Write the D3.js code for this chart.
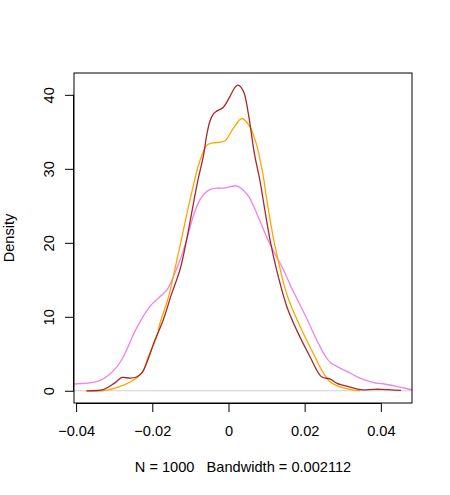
<!DOCTYPE html>
<html>
<head>
<meta charset="utf-8">
<script src="https://cdn.jsdelivr.net/npm/d3@7"></script>
<style>
  body { margin: 0; background: #fff; }
  svg text { font-family: "Liberation Sans", Arial, sans-serif; fill: #000; white-space: pre; }
</style>
</head>
<body>
<svg id="chart" width="450" height="495"></svg>
<script>
// density estimates (x, density)
const brownX = [-0.0373, -0.0327, -0.0300, -0.0279, -0.0258, -0.0240, -0.0225, -0.0210, -0.0195, -0.0171, -0.0150, -0.0136, -0.0125, -0.0110, -0.0095, -0.0080, -0.0066, -0.0057, -0.0049, -0.0040, -0.0031, -0.0014, 0.0004, 0.0017, 0.0025, 0.0039, 0.0052, 0.0065, 0.0070, 0.0083, 0.0091, 0.0109, 0.0126, 0.0153, 0.0179, 0.0214, 0.0244, 0.0266, 0.0285, 0.0319, 0.0347, 0.0381, 0.0400, 0.0453];
const brownY = [0, 0.2, 1.0, 1.8, 1.7, 1.9, 2.6, 4.4, 6.6, 9.6, 13.0, 15.0, 16.8, 20.4, 24.5, 28.5, 31.7, 34.6, 36.4, 37.4, 37.8, 38.3, 39.8, 41.0, 41.3, 40.5, 37.5, 33.0, 31.5, 28.3, 25.8, 20.4, 16.4, 11.4, 8.2, 4.6, 1.9, 1.6, 1.0, 0.5, 0.15, 0.2, 0.2, 0.05];

const orangeX = [-0.0373, -0.0318, -0.0274, -0.0248, -0.0225, -0.0212, -0.0187, -0.0180, -0.0160, -0.0153, -0.0134, -0.0120, -0.0108, -0.0092, -0.0080, -0.0070, -0.0057, -0.0040, -0.0022, -0.0009, 0.0013, 0.0035, 0.0056, 0.0074, 0.0083, 0.0092, 0.0100, 0.0118, 0.0135, 0.0148, 0.0161, 0.0188, 0.0222, 0.0249, 0.0265, 0.0284, 0.0319, 0.0345];
const orangeY = [0, 0.1, 0.8, 1.5, 2.6, 4.4, 7.5, 9.1, 12.2, 13.6, 18.0, 21.3, 24.2, 27.8, 30.3, 31.8, 33.2, 33.5, 33.6, 33.8, 35.5, 36.8, 35.7, 33.2, 31.2, 28.8, 26.0, 20.6, 16.6, 13.9, 11.9, 8.7, 5.1, 2.4, 1.3, 0.7, 0.2, 0];

const violetX = [-0.0450, -0.0405, -0.0360, -0.0337, -0.0315, -0.0292, -0.0276, -0.0241, -0.0206, -0.0180, -0.0162, -0.0145, -0.0127, -0.0110, -0.0090, -0.0075, -0.0064, -0.0049, -0.0030, -0.0012, 0.0005, 0.0021, 0.0035, 0.0048, 0.0056, 0.0074, 0.0100, 0.0119, 0.0144, 0.0163, 0.0179, 0.0207, 0.0222, 0.0240, 0.0254, 0.0268, 0.0284, 0.0319, 0.0345, 0.0381, 0.0406, 0.0450, 0.0482, 0.0500];
const violetY = [0.55, 0.9, 1.1, 1.4, 2.1, 3.3, 4.6, 8.5, 11.4, 12.7, 13.6, 15.4, 17.7, 20.4, 24.0, 25.8, 26.6, 27.2, 27.4, 27.4, 27.6, 27.7, 27.3, 26.6, 26.0, 24.0, 20.8, 18.8, 16.4, 14.2, 12.5, 9.6, 7.9, 6.0, 4.7, 3.8, 3.3, 2.4, 1.7, 1.1, 0.95, 0.5, 0.14, 0.05];

const xTicks = [-0.04, -0.02, 0, 0.02, 0.04];
const yTicks = [0, 10, 20, 30, 40];
const xLabel = "N = 1000   Bandwidth = 0.002112";
const yLabel = "Density";

const series = [
    { xs: violetX, ys: violetY, color: "#EE82EE" },
    { xs: orangeX, ys: orangeY, color: "#FFA500" },
    { xs: brownX, ys: brownY, color: "#A52A2A" }
];

const svg = d3.select("#chart");
const plot = { left: 74, right: 412, top: 73, bottom: 403 };
const fontSize = 14.6;

// R style 4% padding around the first density's range
const xScale = d3.scaleLinear().domain([-0.04055, 0.04817]).range([plot.left, plot.right]);
const yScale = d3.scaleLinear().domain([-1.652, 42.952]).range([plot.bottom, plot.top]);

svg.append("clipPath").attr("id", "clip")
    .append("rect")
    .attr("x", plot.left).attr("y", plot.top)
    .attr("width", plot.right - plot.left).attr("height", plot.bottom - plot.top);

// zero line
svg.append("line")
    .attr("x1", plot.left).attr("x2", plot.right)
    .attr("y1", yScale(0)).attr("y2", yScale(0))
    .attr("stroke", "#D0D0D0").attr("stroke-width", 1);

const line = d3.line()
    .x(d => xScale(d[0]))
    .y(d => yScale(d[1]))
    .curve(d3.curveCatmullRom.alpha(0.5));

const g = svg.append("g").attr("clip-path", "url(#clip)");
series.forEach(s => {
    g.append("path")
        .datum(d3.zip(s.xs, s.ys))
        .attr("d", line)
        .attr("fill", "none")
        .attr("stroke", s.color)
        .attr("stroke-width", 1.3);
});

// box
svg.append("rect")
    .attr("x", plot.left).attr("y", plot.top)
    .attr("width", plot.right - plot.left).attr("height", plot.bottom - plot.top)
    .attr("fill", "none").attr("stroke", "#000").attr("stroke-width", 1);

const fmt = v => (v < 0 ? "\u2212" : "") + d3.format(".2~f")(Math.abs(v));

const xAxis = svg.append("g")
    .attr("transform", `translate(0,${plot.bottom})`)
    .call(d3.axisBottom(xScale).tickValues(xTicks).tickFormat(fmt).tickSizeInner(9).tickSizeOuter(0).tickPadding(13.5));
xAxis.select(".domain").attr("d", `M${xScale(-0.04)},0.5H${xScale(0.04)}`);
xAxis.selectAll("text").attr("font-size", fontSize).attr("font-family", "Liberation Sans, Arial, sans-serif");

const yAxis = svg.append("g")
    .attr("transform", `translate(${plot.left},0)`)
    .call(d3.axisLeft(yScale).tickValues(yTicks).tickSizeInner(9).tickSizeOuter(0));
yAxis.select(".domain").attr("d", `M-0.5,${yScale(0)}V${yScale(40)}`);
yAxis.selectAll("text")
    .attr("font-size", fontSize)
    .attr("font-family", "Liberation Sans, Arial, sans-serif")
    .attr("text-anchor", "middle")
    .attr("transform", "rotate(-90)")
    .attr("x", 0)
    .attr("dy", 0)
    .attr("y", -20.5);

svg.append("text")
    .attr("x", (plot.left + plot.right) / 2)
    .attr("y", 471.5)
    .attr("text-anchor", "middle")
    .attr("font-size", fontSize)
    .text(xLabel);

svg.append("text")
    .attr("transform", `translate(13.5,${(plot.top + plot.bottom) / 2}) rotate(-90)`)
    .attr("text-anchor", "middle")
    .attr("font-size", fontSize)
    .text(yLabel);
</script>
</body>
</html>
